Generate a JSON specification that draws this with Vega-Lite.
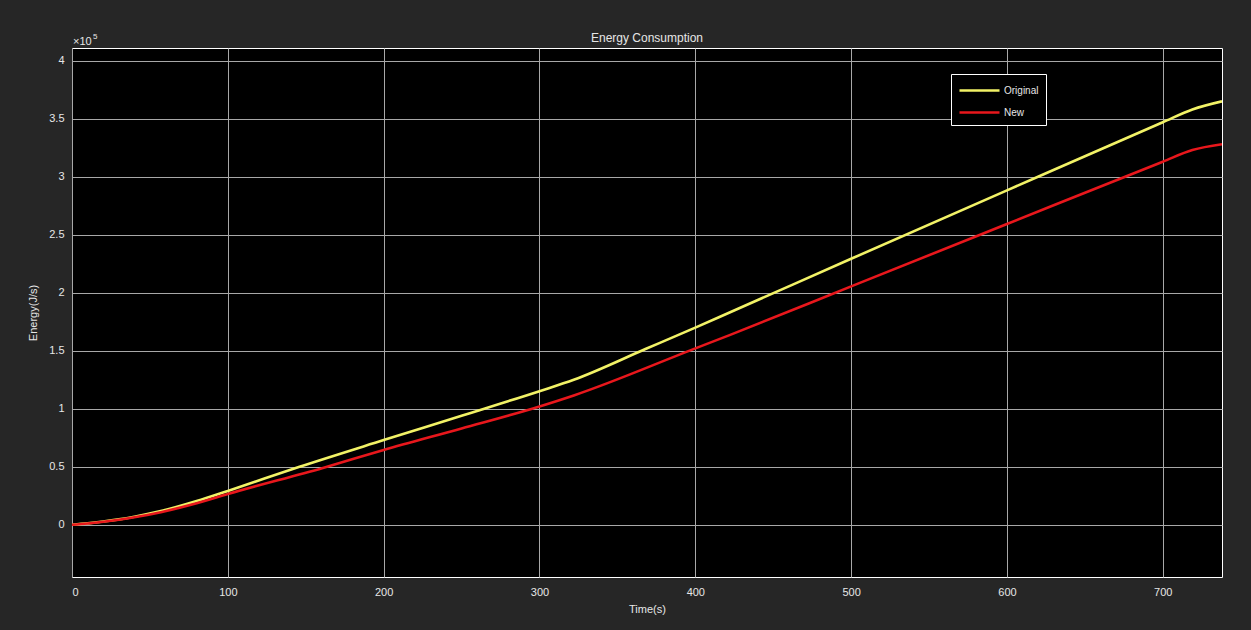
{
  "$schema": "https://vega.github.io/schema/vega-lite/v6.json",
  "width": 1150,
  "height": 529,
  "autosize": {"type": "none"},
  "padding": {"left": 72, "top": 48, "right": 29, "bottom": 53},
  "background": "#262626",
  "title": {"text": "Energy Consumption", "fontSize": 12, "fontWeight": "normal", "color": "#e6e6e6", "font": "Liberation Sans", "offset": -12, "frame": "group"},
  "config": {
    "view": {"fill": "#000000", "stroke": "#ffffff", "strokeWidth": 1},
    "axis": {"labelFont": "Liberation Sans", "titleFont": "Liberation Sans", "labelFontSize": 11, "titleFontSize": 11, "labelColor": "#e6e6e6", "titleColor": "#e6e6e6", "titleFontWeight": "normal", "gridColor": "#a8a8a8", "gridOpacity": 1, "gridWidth": 1, "domain": false, "ticks": false}
  },
  "datasets": {
    "energy": [
      {"time": 0, "energy": 0, "series": "Original"},
      {"time": 10, "energy": 1200, "series": "Original"},
      {"time": 20, "energy": 2800, "series": "Original"},
      {"time": 30, "energy": 4700, "series": "Original"},
      {"time": 40, "energy": 7000, "series": "Original"},
      {"time": 57, "energy": 11800, "series": "Original"},
      {"time": 80, "energy": 20500, "series": "Original"},
      {"time": 100, "energy": 29200, "series": "Original"},
      {"time": 146, "energy": 50000, "series": "Original"},
      {"time": 200, "energy": 73000, "series": "Original"},
      {"time": 250, "energy": 94000, "series": "Original"},
      {"time": 300, "energy": 115200, "series": "Original"},
      {"time": 322, "energy": 125000, "series": "Original"},
      {"time": 368, "energy": 151500, "series": "Original"},
      {"time": 400, "energy": 170000, "series": "Original"},
      {"time": 422, "energy": 183000, "series": "Original"},
      {"time": 500, "energy": 229300, "series": "Original"},
      {"time": 600, "energy": 288300, "series": "Original"},
      {"time": 700, "energy": 347000, "series": "Original"},
      {"time": 719, "energy": 358000, "series": "Original"},
      {"time": 738, "energy": 365000, "series": "Original"},
      {"time": 0, "energy": 0, "series": "New"},
      {"time": 10, "energy": 1100, "series": "New"},
      {"time": 20, "energy": 2600, "series": "New"},
      {"time": 30, "energy": 4400, "series": "New"},
      {"time": 40, "energy": 6500, "series": "New"},
      {"time": 57, "energy": 10900, "series": "New"},
      {"time": 80, "energy": 18500, "series": "New"},
      {"time": 100, "energy": 26500, "series": "New"},
      {"time": 161, "energy": 49000, "series": "New"},
      {"time": 200, "energy": 64500, "series": "New"},
      {"time": 250, "energy": 83000, "series": "New"},
      {"time": 300, "energy": 102000, "series": "New"},
      {"time": 322, "energy": 111500, "series": "New"},
      {"time": 398, "energy": 151000, "series": "New"},
      {"time": 422, "energy": 163500, "series": "New"},
      {"time": 500, "energy": 205500, "series": "New"},
      {"time": 600, "energy": 259300, "series": "New"},
      {"time": 700, "energy": 313000, "series": "New"},
      {"time": 719, "energy": 323000, "series": "New"},
      {"time": 738, "energy": 328000, "series": "New"}
    ],
    "exponent": [{"base": "×10", "power": "5"}]
  },
  "layer": [
    {
      "data": {"name": "energy"},
      "mark": {"type": "line", "strokeWidth": 2.6, "interpolate": "monotone", "clip": true},
      "encoding": {
        "x": {"field": "time", "type": "quantitative", "title": "Time(s)", "scale": {"domain": [0, 738], "nice": false, "zero": false},
          "axis": {"values": [0, 100, 200, 300, 400, 500, 600, 700], "labelPadding": 9, "titlePadding": 6}},
        "y": {"field": "energy", "type": "quantitative", "title": "Energy(J/s)", "scale": {"domain": [-45000, 411000], "nice": false, "zero": false},
          "axis": {"values": [0, 50000, 100000, 150000, 200000, 250000, 300000, 350000, 400000], "labelExpr": "datum.value / 100000", "labelPadding": 8, "titlePadding": 10}},
        "color": {"field": "series", "type": "nominal", "scale": {"domain": ["Original", "New"], "range": ["#f2f266", "#e8171c"]},
          "legend": {"title": null, "orient": "none", "legendX": 879, "legendY": 26, "direction": "vertical",
            "fillColor": "#000000", "strokeColor": "#ffffff", "padding": 7, "cornerRadius": 0,
            "symbolType": "M-1,0L4,0", "symbolSize": 256, "symbolStrokeWidth": 2.6, "symbolFillColor": "transparent",
            "labelOffset": 27, "rowPadding": 7, "labelFont": "Liberation Sans", "labelFontSize": 10, "labelColor": "#e6e6e6"}}
      }
    },
    {
      "data": {"name": "exponent"},
      "mark": {"type": "text", "align": "left", "baseline": "alphabetic", "dy": -3, "dx": 1, "font": "Liberation Sans", "fontSize": 11, "color": "#e6e6e6", "clip": false},
      "encoding": {
        "x": {"datum": 0, "type": "quantitative"},
        "y": {"datum": 411000, "type": "quantitative"},
        "text": {"field": "base"}
      }
    },
    {
      "data": {"name": "exponent"},
      "mark": {"type": "text", "align": "left", "baseline": "alphabetic", "dy": -9, "dx": 21, "font": "Liberation Sans", "fontSize": 8, "color": "#e6e6e6", "clip": false},
      "encoding": {
        "x": {"datum": 0, "type": "quantitative"},
        "y": {"datum": 411000, "type": "quantitative"},
        "text": {"field": "power"}
      }
    }
  ]
}
